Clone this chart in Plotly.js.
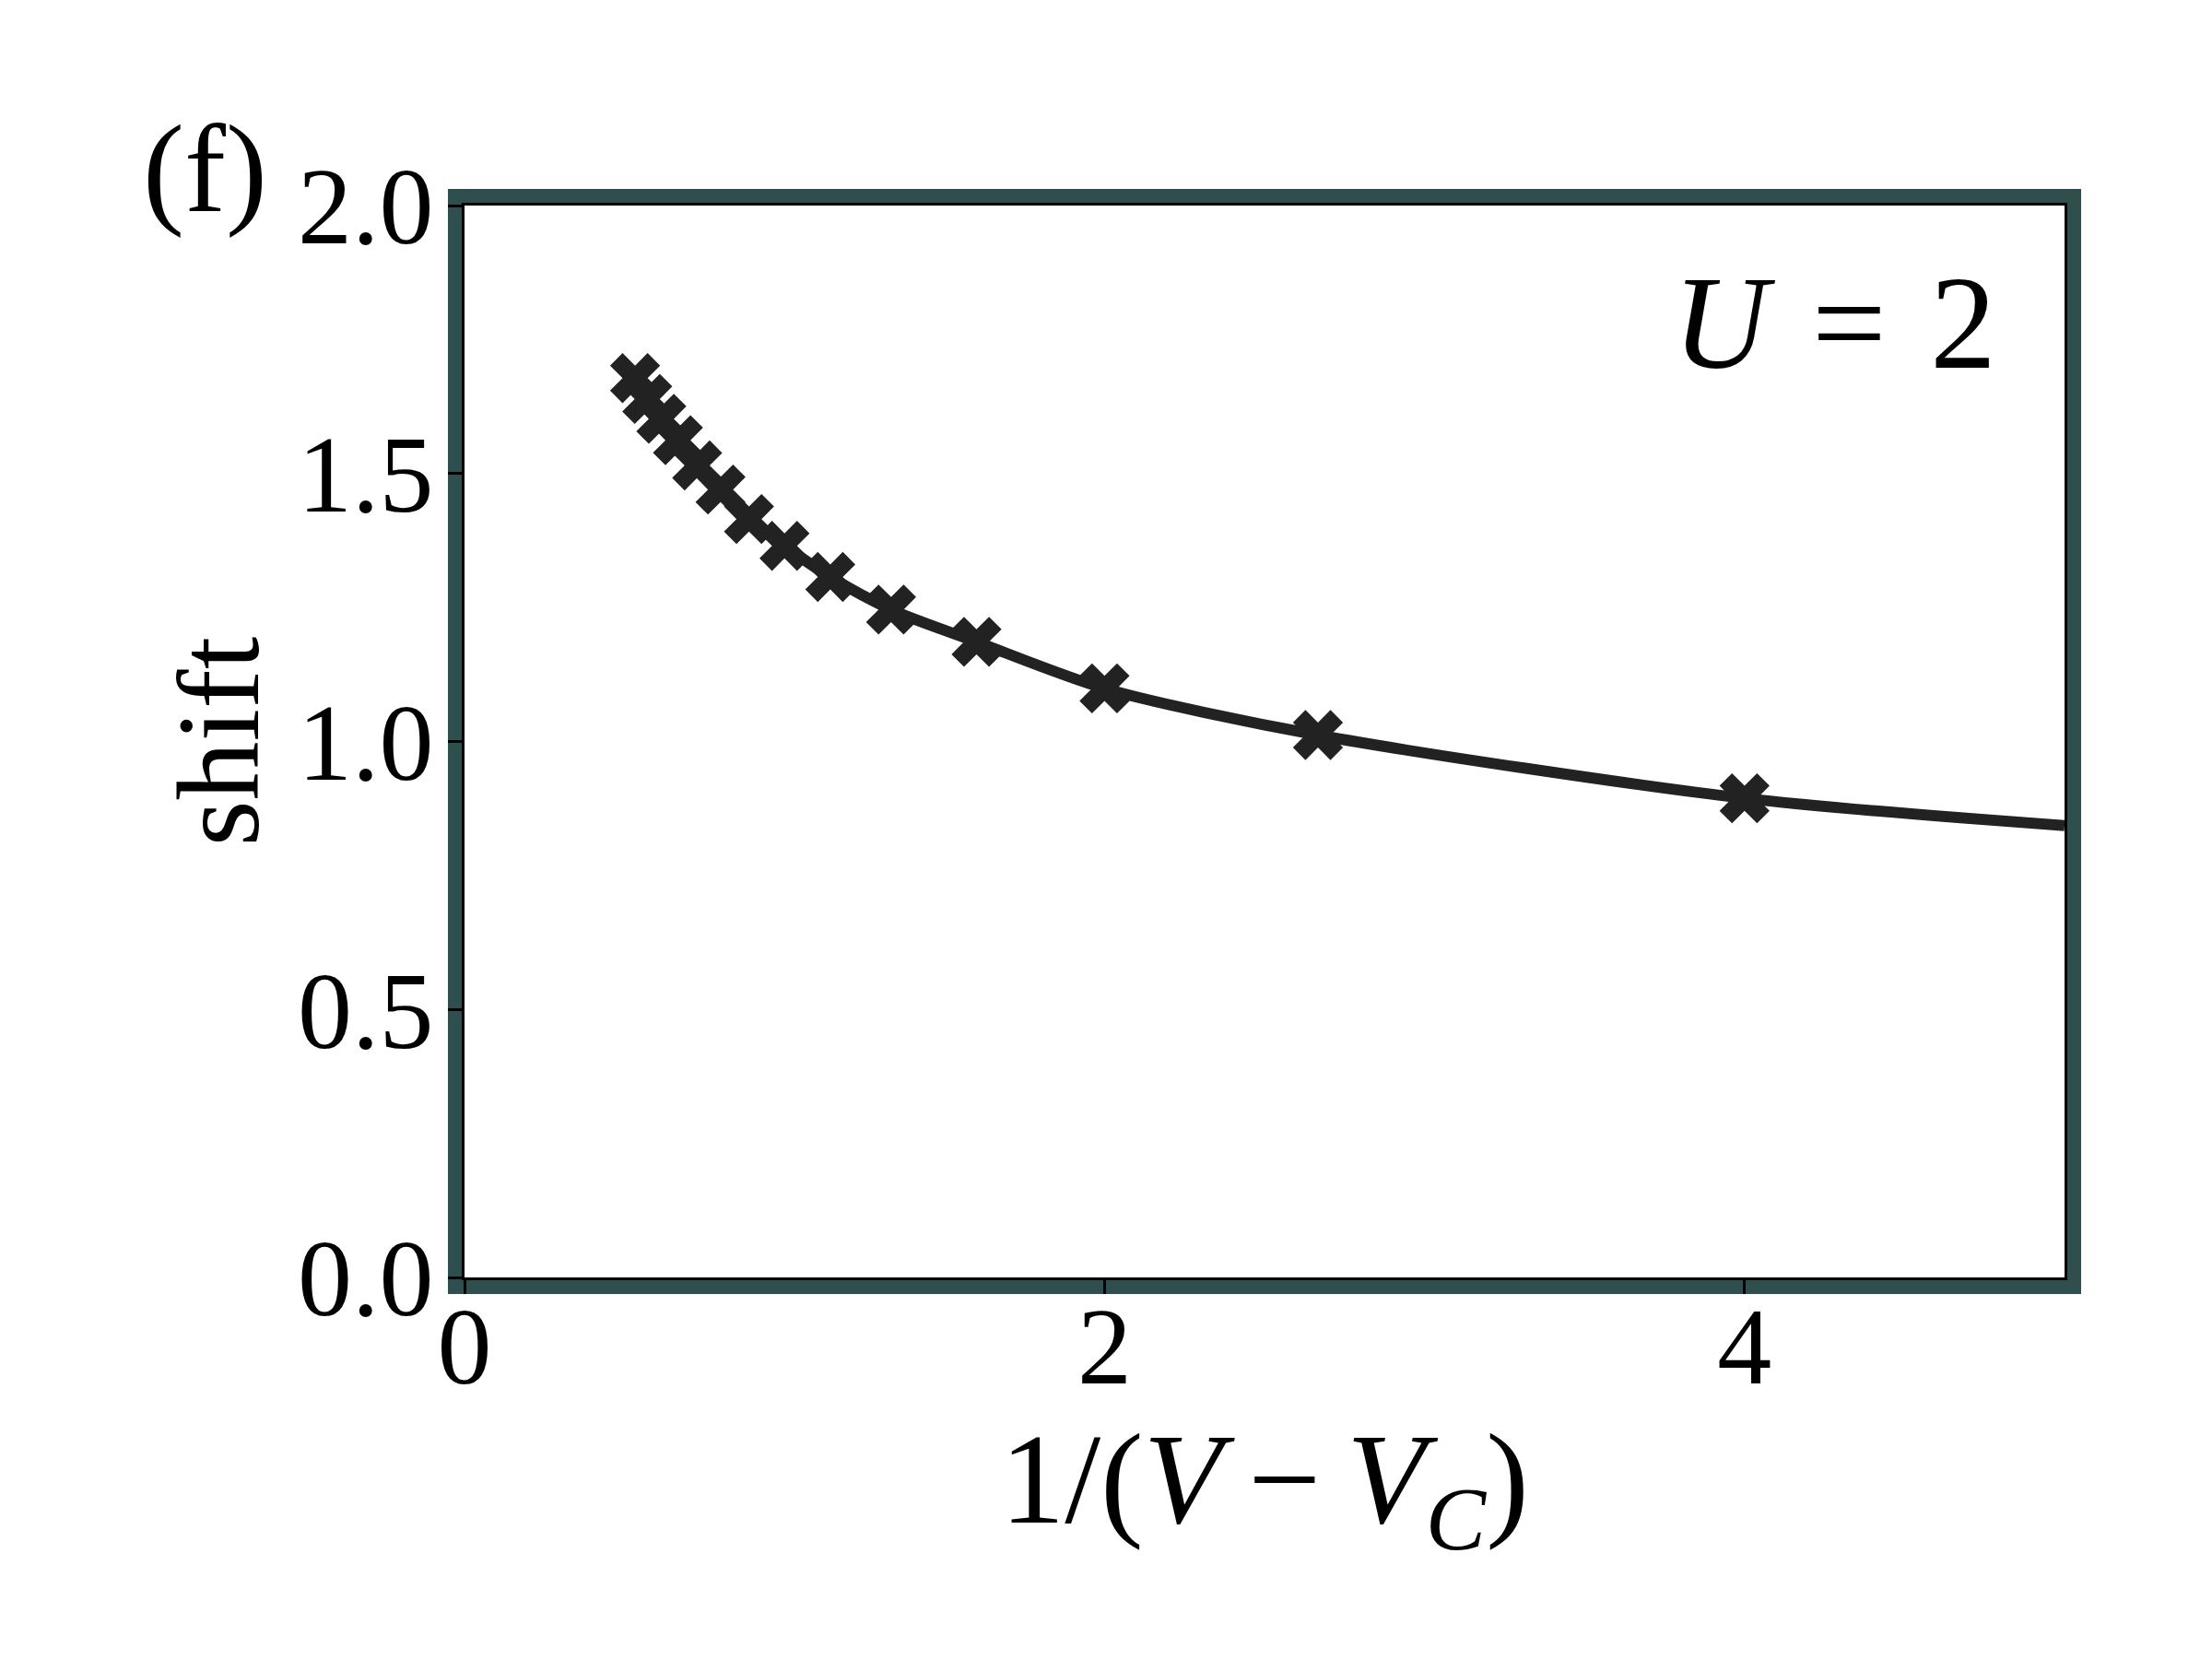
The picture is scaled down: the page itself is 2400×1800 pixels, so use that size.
<!DOCTYPE html>
<html>
<head>
<meta charset="utf-8">
<script src="https://cdn.plot.ly/plotly-3.0.1.min.js"></script>
<style>
  html, body { margin: 0; padding: 0; background: #ffffff; }
  #plot { width: 2400px; height: 1800px; }
</style>
</head>
<body>
<div id="plot"></div>
<script>
// data: x = 1/(V - Vc), y = shift
const pointX = [0.533, 0.571, 0.615, 0.667, 0.727, 0.8, 0.889, 1.0, 1.143, 1.333, 1.6, 2.0, 2.667, 4.0];
const pointY = [1.678, 1.639, 1.602, 1.562, 1.515, 1.470, 1.415, 1.365, 1.307, 1.246, 1.186, 1.099, 1.012, 0.894];

// fitted curve, same points plus its end at the right edge
const fitX = [0.533, 0.571, 0.615, 0.667, 0.727, 0.8, 0.889, 1.0, 1.143, 1.333, 1.6, 2.0, 2.667, 4.0, 5.0];
const fitY = [1.678, 1.639, 1.602, 1.562, 1.515, 1.470, 1.415, 1.365, 1.307, 1.246, 1.186, 1.099, 1.012, 0.894, 0.843];

const xTicks = [0, 2, 4];
const yTicks = [0, 0.5, 1.0, 1.5, 2.0];

const ink = '#222222';
const frameGreen = '#2f4f4f';
const serif = '"Liberation Serif", "DejaVu Serif", serif';

// plot area in pixels, used to put the green frame just outside it
const W = 2400, H = 1800;
const margin = {l: 504, r: 160, t: 223, b: 414};
const plotW = W - margin.l - margin.r;
const plotH = H - margin.t - margin.b;
const frameW = 18;

const fitLine = {
	x: fitX, y: fitY,
	mode: 'lines',
	type: 'scatter',
	line: {color: ink, width: 12, shape: 'spline', smoothing: 0.8},
	hoverinfo: 'skip'
};

const points = {
	x: pointX, y: pointY,
	mode: 'markers',
	type: 'scatter',
	marker: {symbol: 'x', size: 48, color: ink, line: {width: 0}}
};

const axisCommon = {
	showgrid: false,
	zeroline: false,
	showline: true,
	linecolor: 'black',
	linewidth: 3,
	mirror: true,
	ticks: 'outside',
	ticklen: 15,
	tickwidth: 3,
	tickcolor: 'black',
	tickfont: {family: serif, size: 118, color: 'black'}
};

const layout = {
	width: W, height: H,
	margin: margin,
	paper_bgcolor: 'white',
	plot_bgcolor: 'white',
	showlegend: false,
	font: {family: serif, color: 'black'},
	xaxis: Object.assign({}, axisCommon, {
		range: [0, 5],
		tickvals: xTicks,
		ticktext: xTicks.map(String),
		ticklabelstandoff: -45,
		title: {
			text: '1/(<i>V</i>\u2009\u2212\u2009<i>V</i><sub><i>C</i></sub>)',
			font: {family: serif, size: 140, color: 'black'},
			standoff: 20
		}
	}),
	yaxis: Object.assign({}, axisCommon, {
		range: [0, 2],
		tickvals: yTicks,
		tickformat: '.1f',
		ticklabelstandoff: -8,
		title: {
			text: 'shift',
			font: {family: serif, size: 128, color: 'black'},
			standoff: 0
		}
	}),
	shapes: [{
		type: 'rect',
		xref: 'paper', yref: 'paper',
		x0: -(frameW / 2) / plotW, x1: 1 + (frameW / 2) / plotW,
		y0: -(frameW / 2) / plotH, y1: 1 + (frameW / 2) / plotH,
		line: {color: frameGreen, width: frameW},
		layer: 'below'
	}],
	annotations: [{
		text: '(f)',
		xref: 'paper', yref: 'paper',
		x: (222 - margin.l) / plotW, y: (margin.t + plotH - 183) / plotH,
		xanchor: 'center', yanchor: 'middle',
		showarrow: false,
		font: {family: serif, size: 135, color: 'black'}
	}, {
		text: '<i>U</i>\u200a = \u200a2',
		xref: 'paper', yref: 'paper',
		x: 0.856, y: 0.89,
		xanchor: 'center', yanchor: 'middle',
		showarrow: false,
		font: {family: serif, size: 143, color: 'black'}
	}]
};

Plotly.newPlot('plot', [fitLine, points], layout, {staticPlot: true});
</script>
</body>
</html>
